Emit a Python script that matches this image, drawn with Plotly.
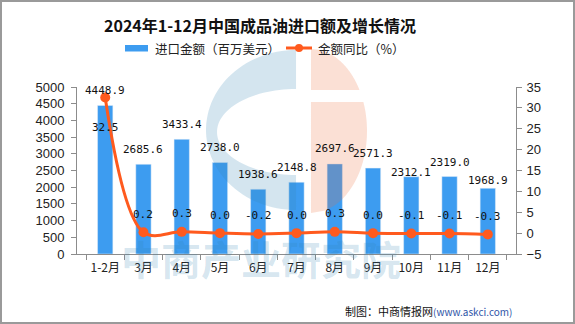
import numpy as np
import plotly.graph_objects as go

categories = ["1-2月", "3月", "4月", "5月", "6月", "7月", "8月", "9月", "10月", "11月", "12月"]
import_value = [4448.9, 2685.6, 3433.4, 2738.0, 1938.6, 2148.8, 2697.6, 2571.3, 2312.1, 2319.0, 1968.9]
yoy_growth = [32.5, 0.2, 0.3, 0.0, -0.2, 0.0, 0.3, 0.0, -0.1, -0.1, -0.3]

# label placement (style): vertical pixel offsets of value labels
bar_label_shift = [15, 15, 15, 15, 15, 15, 15, 15, 4, 14, 8]
line_label_shift = [-30, 18, 18, 18, 18, 18, 18, 18, 18, 18, 18]

W, H = 575, 324
L, R, T, B = 77, 516, 87, 254
BAR_C = "#3D9CF0"
LINE_C = "#FF5A1E"


def px(x):
    return (x - L) / (R - L)


def py(y):
    return (B - y) / (B - T)


fig = go.Figure()
fig.add_trace(go.Bar(x=categories, y=import_value, marker_color=BAR_C, width=0.4,
                     name="进口金额（百万美元）", yaxis="y"))
fig.add_trace(go.Scatter(x=categories, y=yoy_growth, mode="lines+markers", yaxis="y2",
                         line=dict(color=LINE_C, width=3, shape="spline", smoothing=1),
                         marker=dict(color=LINE_C, size=10), name="金额同比（%）"))

annotations = []
label_font = dict(family="DejaVu Sans Mono", size=11, color="#111")
for c, v, s in zip(categories, import_value, bar_label_shift):
    annotations.append(dict(x=c, y=v, xref="x", yref="y", text=f"{v:.1f}", showarrow=False,
                            yshift=s, yanchor="middle", font=label_font))
for c, v, s in zip(categories, yoy_growth, line_label_shift):
    annotations.append(dict(x=c, y=v, xref="x", yref="y2", text=f"{v:.1f}", showarrow=False,
                            yshift=s, yanchor="middle", font=label_font))


def note(x, y, text, font, xanchor="center"):
    annotations.append(dict(x=px(x), y=py(y), xref="paper", yref="paper", showarrow=False,
                            xanchor=xanchor, yanchor="middle", text=text, font=font))


note(260, 25, "<b>2024年1-12月中国成品油进口额及增长情况</b>",
     dict(family="Noto Sans CJK SC", size=16, color="#111"))
leg_font = dict(family="Noto Sans CJK SC", size=12.5, color="#222")
note(153, 48, "进口金额（百万美元）", leg_font, "left")
note(316, 48, "金额同比（%）", leg_font, "left")
note(514, 311, "制图：中商情报网<span style='color:#2F55A8;font-size:10px'>(www.askci.com)</span>",
     dict(family="Noto Sans CJK SC", size=11, color="#111"), "right")
note(261, 258, "<b>中商产业研究院</b>",
     dict(family="Noto Sans CJK SC", size=40, color="rgba(50,130,180,0.21)"))


def path_from(points):
    return "M " + " L ".join(f"{px(x):.4f},{py(y):.4f}" for x, y in points) + " Z"


# watermark logo: blue C
cx, cy, rx, ry = 296, 130, 90, 80
icx, icy, irx, iry = 296, 132, 79, 43
t1 = np.radians(np.linspace(90, 270, 60))
t2 = np.radians(np.linspace(270, 90, 60))
blue_pts = [(cx + rx * np.cos(t), cy - ry * np.sin(t)) for t in t1] + \
           [(icx + irx * np.cos(t), icy - iry * np.sin(t)) for t in t2]


def half_piece(cx, cy, rx, ry, y0, y1, n=50):
    ys = np.linspace(y0, y1, n)
    pts = [(cx, y0)]
    for y in ys:
        d = max(0.0, 1 - ((y - cy) / ry) ** 2)
        pts.append((cx + rx * np.sqrt(d), y))
    pts.append((cx, y1))
    return pts


ocx, ocy, orx, ory = 311, 131, 56, 82
orange1 = half_piece(ocx, ocy, orx, ory, ocy - ory, 90)
orange2 = half_piece(ocx, ocy, orx, ory, 102, ocy + ory)

shapes = [
    dict(type="path", path=path_from(blue_pts), xref="paper", yref="paper",
         fillcolor="rgba(50,130,180,0.21)", line=dict(width=0), layer="above"),
    dict(type="path", path=path_from(orange1), xref="paper", yref="paper",
         fillcolor="rgba(236,110,59,0.21)", line=dict(width=0), layer="above"),
    dict(type="path", path=path_from(orange2), xref="paper", yref="paper",
         fillcolor="rgba(236,110,59,0.21)", line=dict(width=0), layer="above"),
    # legend symbols
    dict(type="rect", x0=px(125), x1=px(148), y0=py(45), y1=py(51.5), xref="paper", yref="paper",
         fillcolor=BAR_C, line=dict(width=0)),
    dict(type="line", x0=px(286), x1=px(312), y0=py(48), y1=py(48), xref="paper", yref="paper",
         line=dict(color=LINE_C, width=3)),
    dict(type="circle", x0=px(295), x1=px(303), y0=py(44), y1=py(52), xref="paper", yref="paper",
         fillcolor=LINE_C, line=dict(width=0)),
    # frame
    dict(type="rect", x0=px(1), x1=px(574), y0=py(1), y1=py(323), xref="paper", yref="paper",
         line=dict(color="#9A9A9A", width=2), fillcolor="rgba(0,0,0,0)"),
]

tick_font = dict(family="Liberation Sans", size=13, color="#222")
fig.update_layout(
    width=W, height=H, autosize=False,
    margin=dict(l=L, r=W - R, t=T, b=H - B, pad=0),
    paper_bgcolor="white", plot_bgcolor="rgba(0,0,0,0)",
    showlegend=False,
    xaxis=dict(showline=True, linecolor="#8C8C8C", linewidth=1, ticks="outside", ticklen=5,
               tickcolor="#8C8C8C", tickson="boundaries", showgrid=False, tickangle=0,
               ticklabelstandoff=3,
               tickfont=dict(family="Noto Sans CJK SC", size=12, color="#222")),
    yaxis=dict(range=[0, 5000], dtick=500, showline=True, linecolor="#8C8C8C", linewidth=1,
               ticks="outside", ticklen=5, tickcolor="#8C8C8C", showgrid=False, zeroline=False,
               ticklabelstandoff=4, tickfont=tick_font),
    yaxis2=dict(range=[-5, 35], dtick=5, overlaying="y", side="right", showline=True,
                linecolor="#8C8C8C", linewidth=1, ticks="outside", ticklen=5, tickcolor="#8C8C8C",
                showgrid=False, zeroline=False, ticklabelstandoff=2, tickfont=tick_font),
    annotations=annotations,
    shapes=shapes,
)

fig.write_html("out.html")
